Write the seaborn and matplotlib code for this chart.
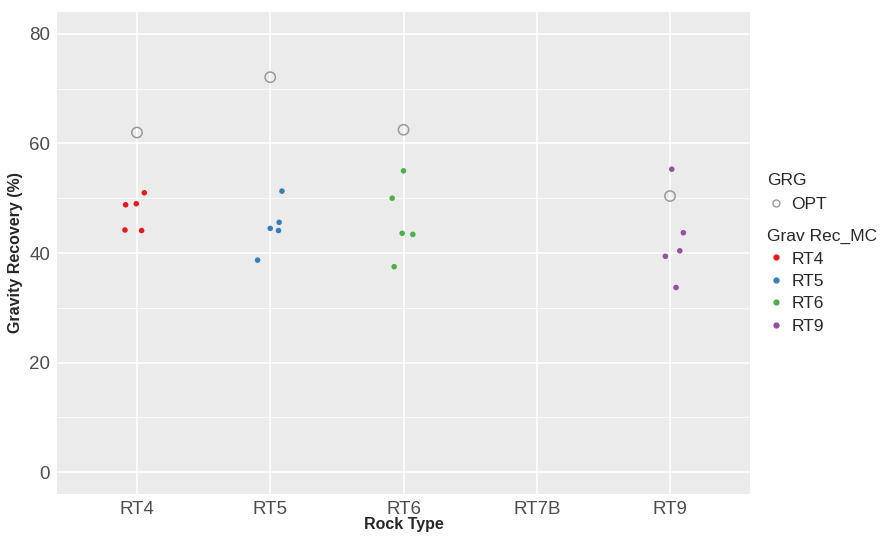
import numpy as np
import pandas as pd
import matplotlib
matplotlib.use("Agg")
import matplotlib.pyplot as plt
import seaborn as sns
from matplotlib.lines import Line2D

# categorias del eje x
rock_types = ["RT4", "RT5", "RT6", "RT7B", "RT9"]

# puntos Grav Rec_MC (valores y desplazamiento horizontal)
rt4_vals = [51.0, 48.8, 49.0, 44.2, 44.1]
rt4_jit = [0.055, -0.085, -0.005, -0.09, 0.035]
rt5_vals = [51.3, 45.6, 44.5, 44.1, 38.7]
rt5_jit = [0.088, 0.067, 0.0, 0.062, -0.095]
rt6_vals = [55.0, 50.0, 43.6, 43.4, 37.5]
rt6_jit = [0.0, -0.085, -0.01, 0.07, -0.07]
rt9_vals = [55.3, 43.7, 40.4, 39.4, 33.7]
rt9_jit = [0.013, 0.1, 0.073, -0.035, 0.045]

# valores OPT (GRG)
opt_types = ["RT4", "RT5", "RT6", "RT9"]
opt_vals = [62.0, 72.1, 62.5, 50.4]

colores = {"RT4": "#E41A1C", "RT5": "#377EB8", "RT6": "#4DAF4A", "RT9": "#984EA3"}

filas = []
for rt, vals, jit in [("RT4", rt4_vals, rt4_jit), ("RT5", rt5_vals, rt5_jit),
                      ("RT6", rt6_vals, rt6_jit), ("RT9", rt9_vals, rt9_jit)]:
    for v, j in zip(vals, jit):
        filas.append({"grupo": rt, "x": rock_types.index(rt) + j, "y": v})
mc_df = pd.DataFrame(filas)

opt_df = pd.DataFrame({"x": [rock_types.index(r) for r in opt_types], "y": opt_vals})

sns.set_style("darkgrid", {"axes.facecolor": "#EBEBEB", "grid.color": "white"})
plt.rcParams["font.family"] = ["Liberation Sans", "DejaVu Sans"]

fig = plt.figure(figsize=(8.81, 5.38), dpi=100)
ax = fig.add_axes([57 / 881, 1 - 494 / 538, (750 - 57) / 881, (494 - 12) / 538])

sns.scatterplot(data=opt_df, x="x", y="y", ax=ax, s=55, facecolors="none",
                edgecolor="#999999", linewidth=1.1, legend=False, zorder=3)
ax.collections[-1].set_facecolor("none")
sns.scatterplot(data=mc_df, x="x", y="y", hue="grupo", palette=colores, ax=ax,
                s=16, linewidth=0, legend=False, zorder=3)

ax.set_xlim(-0.6, 4.6)
ax.set_ylim(-4, 84)
ax.set_xticks(range(len(rock_types)))
ax.set_xticklabels(rock_types)
ax.set_yticks([0, 20, 40, 60, 80])
ax.set_yticks([10, 30, 50, 70], minor=True)
ax.grid(True, which="major", color="white", linewidth=1.2)
ax.grid(True, which="minor", axis="y", color="white", linewidth=0.6)
ax.tick_params(axis="both", which="major", length=3, width=0.8, color="#333333",
               labelsize=13.5, labelcolor="#4D4D4D", pad=2)
ax.tick_params(axis="both", which="minor", length=0)
for sp in ax.spines.values():
    sp.set_visible(False)
ax.set_xlabel("Rock Type", fontsize=11.5, fontweight="bold", labelpad=-1)
ax.set_ylabel("Gravity Recovery (%)", fontsize=11.5, fontweight="bold", labelpad=4)

# leyendas
h_opt = [Line2D([0], [0], marker="o", linestyle="", markerfacecolor="none",
                markeredgecolor="#999999", markersize=5, label="OPT")]
leg1 = fig.legend(handles=h_opt, title="GRG", loc="upper left",
                  bbox_to_anchor=(760 / 881, 1 - 166 / 538), frameon=False,
                  fontsize=12.5, title_fontsize=12.5, handlelength=1.0,
                  handletextpad=0.4, borderaxespad=0)
leg1._legend_box.align = "left"
h_mc = [Line2D([0], [0], marker="o", linestyle="", color=colores[k],
               markersize=3.5, label=k) for k in ["RT4", "RT5", "RT6", "RT9"]]
leg2 = fig.legend(handles=h_mc, title="Grav Rec_MC", loc="upper left",
                  bbox_to_anchor=(760 / 881, 1 - 222 / 538), frameon=False,
                  fontsize=12.5, title_fontsize=12.5, handlelength=1.0,
                  handletextpad=0.4, labelspacing=0.42, borderaxespad=0)
leg2._legend_box.align = "left"

fig.savefig("out.png", dpi=100)
